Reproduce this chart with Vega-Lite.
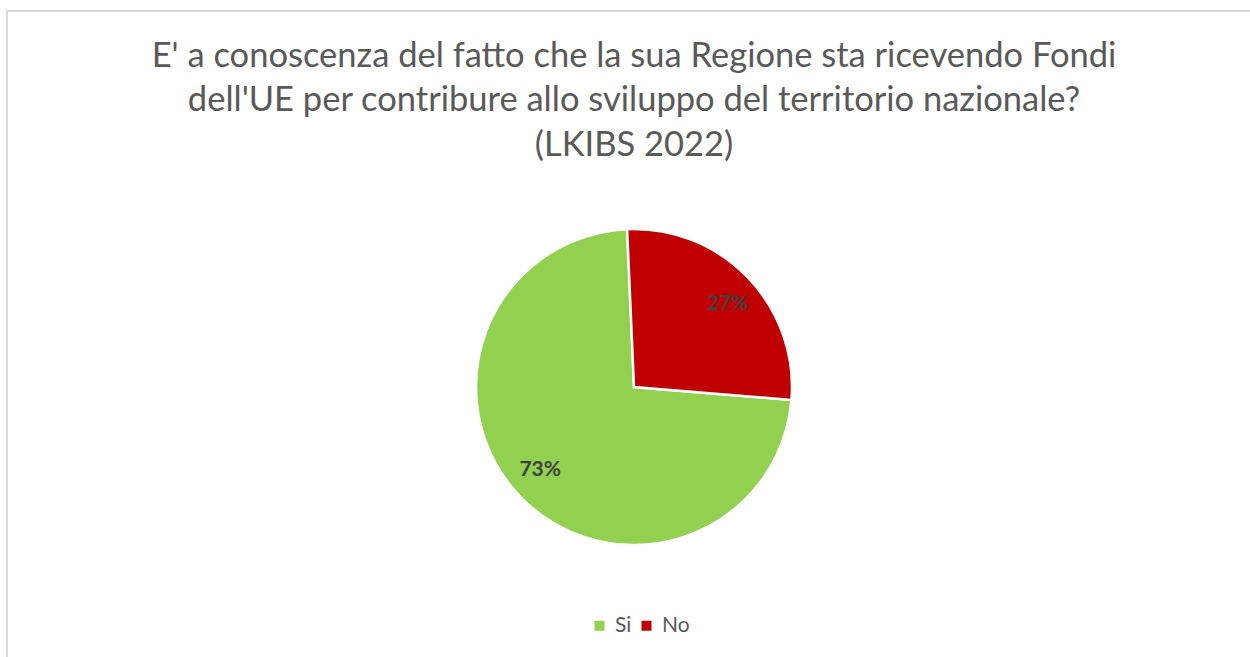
{
  "$schema": "https://vega.github.io/schema/vega-lite/v6.json",
  "width": 1254,
  "height": 752,
  "autosize": {"type": "none"},
  "padding": {"left": 7, "top": 11, "right": 0, "bottom": 0},
  "background": "white",
  "view": {"stroke": "#d9d9d9", "strokeWidth": 2, "fill": "white"},
  "config": {
    "font": "Lato"
  },
  "title": {
    "text": ["E' a conoscenza del fatto che la sua Regione sta ricevendo Fondi", "dell'UE per contribure allo sviluppo del territorio nazionale?", "(LKIBS 2022)"],
    "orient": "top",
    "anchor": "middle",
    "frame": "group",
    "baseline": "alphabetic",
    "offset": -179,
    "fontSize": 34.5,
    "fontWeight": "normal",
    "font": "Lato",
    "color": "#595959",
    "lineHeight": 44.5
  },
  "data": {
    "values": [
      {"risposta": "Si", "valore": 73, "etichetta": "73%"},
      {"risposta": "No", "valore": 27, "etichetta": "27%"}
    ]
  },
  "encoding": {
    "theta": {"field": "valore", "type": "quantitative", "stack": true, "scale": {"range": [1.653, 7.936]}},
    "order": {"field": "valore", "type": "quantitative", "sort": "descending"}
  },
  "layer": [
    {
      "mark": {"type": "arc", "outerRadius": 158, "stroke": "white", "strokeWidth": 2.5},
      "encoding": {
        "color": {
          "field": "risposta",
          "type": "nominal",
          "scale": {"domain": ["Si", "No"], "range": ["#92d050", "#c00000"]},
          "legend": {
            "title": null,
            "orient": "none",
            "direction": "horizontal",
            "legendX": 582,
            "legendY": 604,
            "symbolType": "square",
            "symbolSize": 100,
            "symbolStrokeWidth": 0,
            "labelFontSize": 21,
            "labelColor": "#595959",
            "labelFont": "Lato",
            "columnPadding": 4,
            "labelOffset": 5
          }
        }
      }
    },
    {
      "mark": {"type": "text", "radius": 125, "thetaOffset": 0.044, "fontSize": 21, "fontWeight": "bold", "color": "#404040", "font": "Lato"},
      "encoding": {
        "text": {"field": "etichetta", "type": "nominal"},
        "detail": {"field": "risposta", "type": "nominal", "scale": {"domain": ["Si", "No"]}}
      }
    }
  ]
}
